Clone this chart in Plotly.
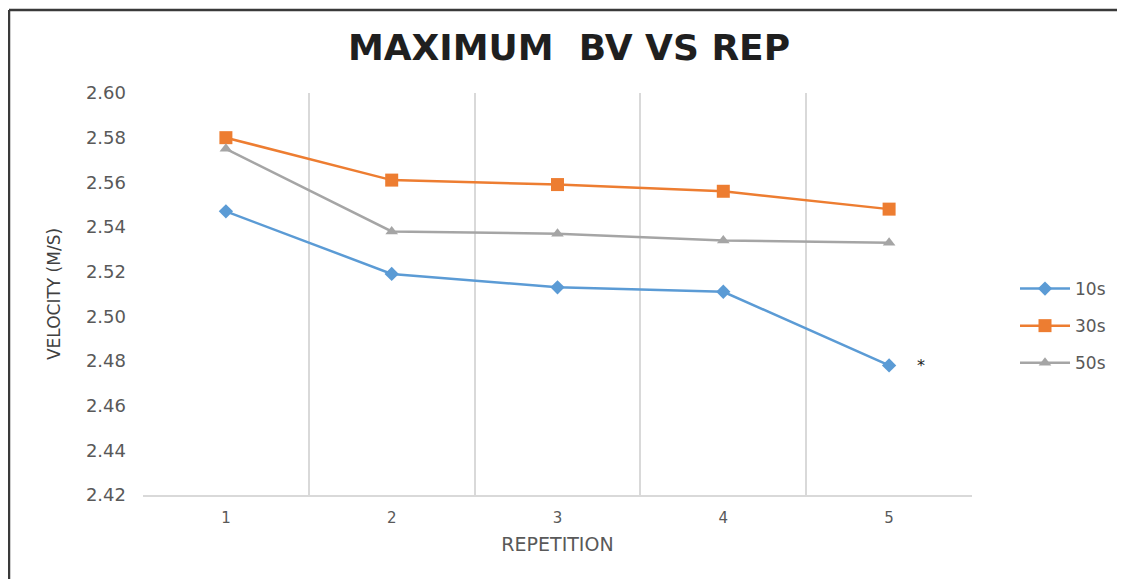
import plotly.graph_objects as go

repetitions = [1, 2, 3, 4, 5]
series_names = ["10s", "30s", "50s"]
v_10s = [2.547, 2.519, 2.513, 2.511, 2.478]
v_30s = [2.580, 2.561, 2.559, 2.556, 2.548]
v_50s = [2.575, 2.538, 2.537, 2.534, 2.533]
y_ticks = [2.42, 2.44, 2.46, 2.48, 2.50, 2.52, 2.54, 2.56, 2.58, 2.60]
boundaries = [0.5, 1.5, 2.5, 3.5, 4.5, 5.5]

colors = ["#5B9BD5", "#ED7D31", "#A5A5A5"]
symbols = ["diamond", "square", "triangle-up"]
sizes = [11, 13, 11]
values = [v_10s, v_30s, v_50s]

fig = go.Figure()
for name, vals, c, s, sz in zip(series_names, values, colors, symbols, sizes):
    fig.add_trace(go.Scatter(
        x=repetitions, y=vals, name=name, legendgroup=name,
        mode="lines+markers",
        line=dict(color=c, width=2.5),
        marker=dict(color=c, symbol=s, size=sz),
    ))

fig.add_annotation(x=5.19, y=v_10s[4], text="*", showarrow=False,
                   font=dict(size=16, color="#222222", family="DejaVu Sans"),
                   yshift=0)

# page body adds an 8px offset, so the figure is laid out 8px up/left
OFF = 8
W, H = 1125, 579
L, R, T, B = 143 - OFF, 153 + OFF, 93 - OFF, 84 + OFF
pw, ph = W - L - R, H - T - B

def px(x):
    return (x - OFF - L) / pw

def py(y):
    return (H - B - (y - OFF)) / ph

frame = dict(color="#3a3a3a", width=2.5)
fig.add_shape(type="line", xref="paper", yref="paper",
              x0=px(9), x1=px(W + 20), y0=py(10), y1=py(10), line=frame)
fig.add_shape(type="line", xref="paper", yref="paper",
              x0=px(9), x1=px(9), y0=py(10), y1=py(H + 20), line=frame)

fig.update_layout(
    width=W, height=H,
    margin=dict(l=L, r=R, t=T, b=B),
    paper_bgcolor="white", plot_bgcolor="white",
    font=dict(family="DejaVu Sans", color="#595959"),
    title=dict(text="<b>MAXIMUM  BV VS REP</b>", x=px(569), xref="paper",
               xanchor="center",
               y=1 - (47 - OFF) / H, yanchor="middle",
               font=dict(size=36, color="#1f1f1f", family="DejaVu Sans")),
    showlegend=True,
    legend=dict(x=px(1015), y=py(326), xanchor="left", yanchor="middle",
                font=dict(size=17, color="#595959"),
                itemwidth=50,
                tracegroupgap=12, traceorder="grouped",
                bgcolor="rgba(0,0,0,0)"),
    xaxis=dict(range=[0.5, 5.5], tickvals=repetitions,
               ticktext=[str(r) for r in repetitions],
               showgrid=False, zeroline=False, showline=True,
               linecolor="#D9D9D9", linewidth=1.5,
               tickfont=dict(size=15, color="#595959"),
               ticks="", ticklen=0, ticklabelstandoff=8,
               title=dict(text="REPETITION", font=dict(size=19, color="#595959"),
                          standoff=12),
               minor=dict(tickvals=boundaries, showgrid=True,
                          gridcolor="#D9D9D9", gridwidth=1.5, ticks="")),
    yaxis=dict(range=[2.42, 2.60], tickvals=y_ticks, tickformat=".2f",
               showgrid=False, zeroline=False, showline=False,
               tickfont=dict(size=18, color="#595959"),
               ticklabelstandoff=16,
               title=dict(text="VELOCITY (M/S)", font=dict(size=17, color="#404040"),
                          standoff=20)),
)

fig.write_html("out.html")
